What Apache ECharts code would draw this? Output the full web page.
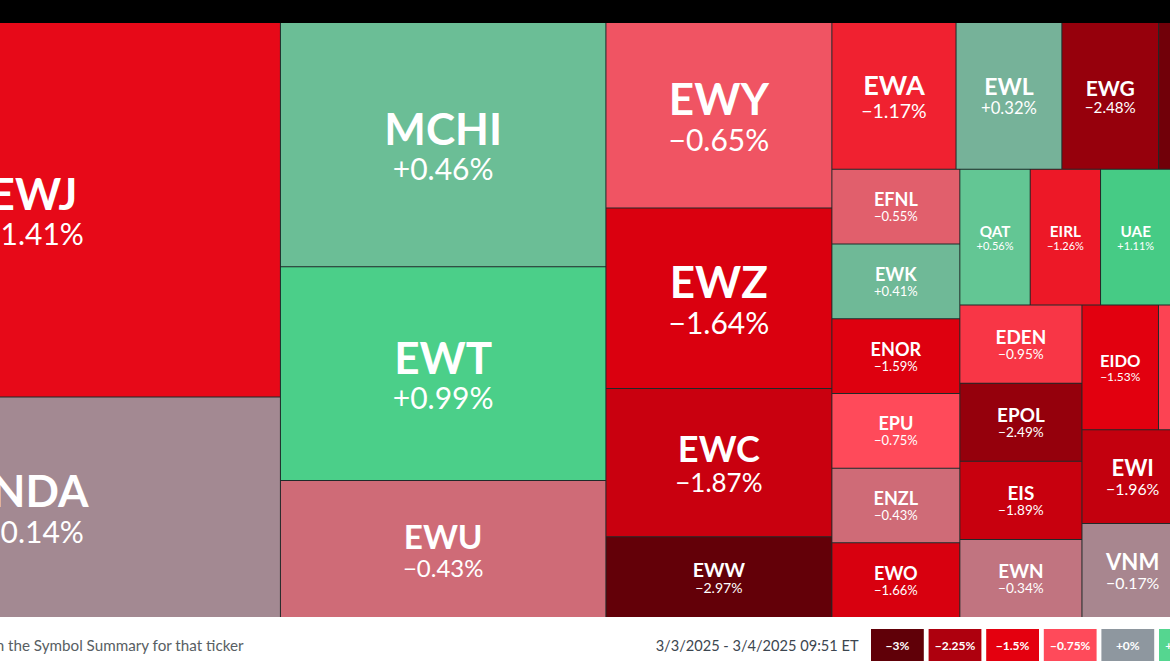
<!DOCTYPE html>
<html>
<head>
<meta charset="utf-8">
<script src="https://cdn.jsdelivr.net/npm/echarts@6/dist/echarts.min.js"></script>
<style>
html,body{margin:0;padding:0;width:1170px;height:663px;overflow:hidden;background:#ffffff;font-family:Lato,sans-serif;}
#topbar{position:absolute;left:0;top:0;width:1170px;height:23px;background:#000;}
#under{position:absolute;left:0;top:23px;width:1170px;height:594px;background:#1f2a29;}
#chart{position:absolute;left:-213px;top:23px;width:1524px;height:640px;}
</style>
</head>
<body>
<div id="topbar"></div>
<div id="under"></div>
<div id="chart"></div>
<script>
// ---- data ----
const tickers = ['EWJ','INDA','MCHI','EWT','EWU','EWY','EWZ','EWC','EWW','EWA','EWL','EWG','EWQ','EWS',
  'EFNL','EWK','ENOR','EPU','ENZL','EWO',
  'QAT','EIRL','UAE','EWM','EZA',
  'EDEN','EPOL','EIS','EWN',
  'EIDO','EWD','ECH',
  'EWI','VNM',
  'THD','TUR','EPHE'];
const weights = [184509,108680,79275,69472,44458,41810,40680,33448,18193,18190,15506,14171,12000,10400,
  9540,9538,9536,9534,9532,9530,
  9528,9526,9524,9522,9520,
  9518,9516,9514,9512,
  9510,9508,9506,
  9504,9502,
  8500,8200,7317];
const changes = [-1.41,-0.14,0.46,0.99,-0.43,-0.65,-1.64,-1.87,-2.97,-1.17,0.32,-2.48,-2.84,-0.30,
  -0.55,0.41,-1.59,-0.75,-0.43,-1.66,
  0.56,-1.26,1.11,-0.21,-0.84,
  -0.95,-2.49,-1.89,-0.34,
  -1.53,-0.82,-0.47,
  -1.96,-0.17,
  -0.62,-1.22,0.18];
const scaleSteps = [-3,-2.25,-1.5,-0.75,0,0.75,1.5,2.25,3];
const scaleColors = ['#600008','#ae000e','#e4000f','#ff4a5a','#8e979f','#55d690','#35c07a','#16985a','#0a6b3d'];
const dateRangeText = '3/3/2025 - 3/4/2025 09:51 ET';
const footnoteText = 'Click on a symbol to open it in the Symbol Summary for that ticker';

// ---- helpers ----
const MINUS = '\u2212';
const LINE_COLOR = '#1f2a29';
function fmtChange(v){ return (v < 0 ? MINUS : '+') + Math.abs(v).toFixed(2) + '%'; }
function fmtStep(v){ return (v < 0 ? MINUS : '+') + String(Math.abs(v)) + '%'; }
const changeByName = {};
tickers.forEach((t,i)=>{ changeByName[t] = changes[i]; });

function fontsFor(s){
  const nf = Math.max(8, Math.min(44, 0.245*s.h, 0.22*s.w));
  const pf = Math.min(30, nf*0.72);
  return {nf:nf, pf:pf, nl:Math.round(nf*1.07), pl:Math.round(pf*1.12)};
}
function richFor(f){
  return {
    n:{fontSize:f.nf, lineHeight:f.nl, fontWeight:'bold', fontFamily:'Lato', color:'#ffffff'},
    p:{fontSize:f.pf, lineHeight:f.pl, fontWeight:'normal', fontFamily:'Lato', color:'#ffffff'}
  };
}

function buildData(sizes){
  return tickers.map((t,i)=>{
    const item = {name:t, value:[weights[i], changes[i]]};
    if (sizes && sizes[t]) {
      const f = fontsFor(sizes[t]);
      const textH = f.nl + f.pl;
      const padTop = Math.max(0, (sizes[t].h - textH)/2);
      item.label = {rich: richFor(f), padding:[padTop,0,0,0]};
    }
    return item;
  });
}

function buildFooter(){
  const ox = 213, oy = 23;
  const els = [];
  els.push({type:'text', silent:true, style:{text:footnoteText, x:243.5+ox, y:645-oy, align:'right', verticalAlign:'middle', fill:'#585e63', fontSize:15.2, fontFamily:'Lato'}});
  els.push({type:'text', silent:true, style:{text:dateRangeText, x:858.5+ox, y:645-oy, align:'right', verticalAlign:'middle', fill:'#3c4650', fontSize:14.6, fontFamily:'Lato'}});
  scaleSteps.forEach((v,i)=>{
    const x = 871 + i*57.6 + ox;
    els.push({type:'rect', silent:true, shape:{x:x, y:629-oy, width:52.8, height:32}, style:{fill:scaleColors[i]}});
    els.push({type:'text', silent:true, style:{text:fmtStep(v), x:x+26.4, y:645-oy, align:'center', verticalAlign:'middle', fill:'#ffffff', fontSize:12, fontWeight:'bold', fontFamily:'Lato'}});
  });
  return els;
}

function buildOption(sizes){
  return {
    animation:false,
    series:[{
      type:'treemap',
      left:0, top:0, width:1524, height:594,
      roam:false, nodeClick:false,
      breadcrumb:{show:false},
      visibleMin:0,
      sort:'desc',
      squareRatio:0.5*(1+Math.sqrt(5)),
      emphasis:{disabled:true},
      label:{
        show:true, position:'inside',
        formatter:function(p){ return '{n|' + p.name + '}\n{p|' + fmtChange(changeByName[p.name]) + '}'; },
        rich:richFor(fontsFor({w:60,h:60}))
      },
      upperLabel:{show:false},
      itemStyle:{borderWidth:0, gapWidth:0, borderColor:LINE_COLOR},
      levels:[
        {itemStyle:{borderWidth:0, gapWidth:1, borderColor:LINE_COLOR}, color:scaleColors, colorMappingBy:'value', visualDimension:1, visualMin:-3, visualMax:3},
        {itemStyle:{borderWidth:0, gapWidth:0, borderColor:LINE_COLOR}}
      ],
      data:buildData(sizes)
    }],
    graphic:buildFooter()
  };
}

const chart = echarts.init(document.getElementById('chart'), null, {renderer:'svg'});
chart.setOption(buildOption(null));
let sizes = null;
try {
  const d = chart.getModel().getSeriesByIndex(0).getData();
  sizes = {};
  for (let i = 0; i < d.count(); i++) {
    const l = d.getItemLayout(i);
    if (l && l.width != null) sizes[d.getName(i)] = {w:l.width, h:l.height};
  }
} catch (e) { sizes = null; }
if (sizes) chart.setOption(buildOption(sizes), {notMerge:true});
</script>
</body>
</html>
